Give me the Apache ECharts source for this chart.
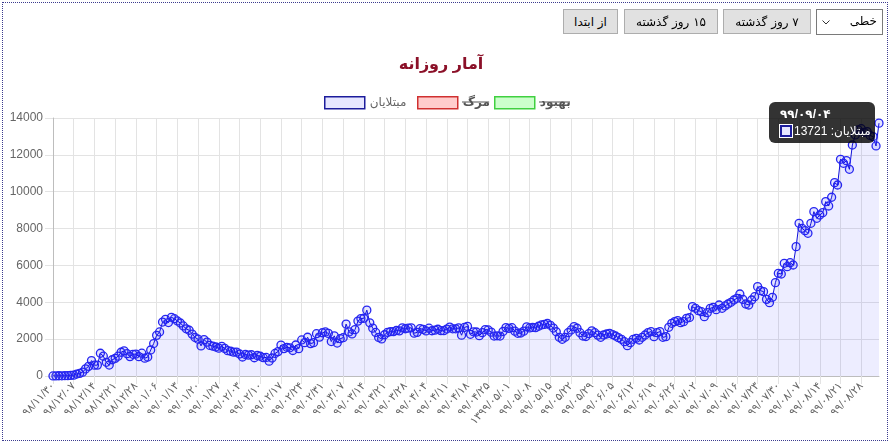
<!DOCTYPE html>
<html>
<head>
<meta charset="utf-8">
<script src="https://cdn.jsdelivr.net/npm/echarts@6/dist/echarts.min.js"></script>
<style>
html,body{margin:0;padding:0;background:#fff;}
#wrap{position:relative;width:890px;height:443px;overflow:hidden;}
#chart{position:absolute;left:0;top:0;width:890px;height:443px;}
#frame{position:absolute;left:2px;top:2px;width:884px;height:437px;border:1px dotted #3b3b8f;pointer-events:none;}
.btn{position:absolute;top:9px;height:25px;box-sizing:border-box;background:#e1e1e1;border:1px solid #adadad;
  font:12px 'DejaVu Sans',sans-serif;color:#000;display:flex;align-items:center;justify-content:center;direction:rtl;white-space:nowrap;}
.sel{position:absolute;top:9px;left:816px;width:67px;height:26px;box-sizing:border-box;background:#fff;border:1px solid #7a7a7a;
  font:12px 'DejaVu Sans',sans-serif;color:#000;direction:rtl;}
.sel span{position:absolute;right:5px;top:4px;}
.sel svg{position:absolute;left:5px;top:10px;}
</style>
</head>
<body>
<div id="wrap">
  <div id="chart"></div>
  <div class="btn" style="left:563px;width:55px;">از ابتدا</div>
  <div class="btn" style="left:624px;width:94px;">۱۵ روز گذشته</div>
  <div class="btn" style="left:723px;width:88px;">۷ روز گذشته</div>
  <div class="sel"><span>خطی</span><svg width="8" height="5" viewBox="0 0 8 5"><polyline points="0.5,0.5 4,4 7.5,0.5" fill="none" stroke="#333" stroke-width="1"/></svg></div>
  <div id="frame"></div>
</div>
<script>
// ---- data ----
const seriesNames = ['مبتلایان', 'مرگ', 'بهبود'];
const titleText = 'آمار روزانه';
const yTicks = [0, 2000, 4000, 6000, 8000, 10000, 12000, 14000];

// Persian calendar months covered: [year, month, days]
const monthTable = [[98,11,30],[98,12,29],[99,1,31],[99,2,31],[99,3,31],[99,4,31],[99,5,31],[99,6,31],[99,7,30],[99,8,30],[99,9,30]];

// daily infected (مبتلایان), 98/11/30 .. 99/09/04
const infected = [
  2,3,13,10,15,18,34,44,106,143,205,
  385,523,835,586,591,1234,1076,743,595,881,958,1075,1289,1365,1209,1053,1178,1192,1046,1237,966,1028,1411,1762,2206,2389,2926,3076,2901,3186,3110,
  2987,2875,2715,2560,2483,2274,2089,1997,1634,1972,1837,1657,1617,1574,1512,1606,1499,1374,1343,1294,1297,1194,1030,1168,1134,1153,991,1112,1073,993,
  1006,802,976,1223,1323,1680,1485,1556,1529,1383,1683,1481,1958,1808,2102,1757,1806,2294,2111,2346,2392,2311,1869,2180,1787,2023,2080,2819,2392,2282,2516,
  2979,3117,3134,3574,2886,2596,2364,2095,2011,2238,2369,2410,2410,2472,2449,2612,2563,2596,2615,2322,2368,2573,2531,2445,2595,2456,2489,2536,2457,2457,
  2549,2652,2560,2560,2613,2213,2637,2691,2262,2397,2388,2186,2349,2521,2500,2379,2166,2182,2166,2414,2625,2586,2621,2434,2316,2333,2434,2667,2608,2636,2621,
  2700,2770,2800,2850,2750,2600,2400,2100,1990,2100,2350,2500,2680,2590,2350,2170,2140,2300,2450,2350,2220,2100,2225,2280,2316,2250,2170,2080,1990,1863,1647,
  1809,1990,2045,1954,2100,2225,2352,2406,2135,2352,2406,2100,2135,2641,2858,2949,3003,2894,2950,3130,3170,3763,3672,3546,3491,3220,3437,3672,3727,3600,
  3853,3672,3800,3907,4000,4124,4215,4450,4160,3907,3853,4124,4305,4848,4631,4577,4160,3980,4269,5065,5572,5535,6114,5933,6150,6024,7019,8285,8014,7887,7742,
  8285,8918,8556,8737,8864,9461,9226,9700,10492,10365,11758,11541,11686,11216,12536,13079,13352,13421,13223,13260,13053,12989,12482,13721
];
// hidden datasets (not drawn in the reference)
const deaths = [];
const recovered = [];

// ---- build date categories ----
const faDigits = '۰۱۲۳۴۵۶۷۸۹';
const fa = s => s.replace(/\d/g, d => faDigits[+d]);
const pad = n => String(n).padStart(2, '0');
const dates = [];
for (const [y, m, len] of monthTable) {
  for (let d = 1; d <= len; d++) {
    if (y === 98 && m === 11 && d < 30) continue;
    if (y === 99 && m === 9 && d > 4) break;
    const yy = (y === 99 && m === 5 && d === 1) ? '1399' : String(y);
    dates.push(fa(yy + '/' + pad(m) + '/' + pad(d)));
  }
}

const FONT = "'Liberation Sans','DejaVu Sans',sans-serif";
const meas = document.createElement('canvas').getContext('2d');
meas.font = 'bold 12px ' + FONT;
const wDeath = meas.measureText(seriesNames[1]).width;
const wRec = meas.measureText(seriesNames[2]).width;

const chart = echarts.init(document.getElementById('chart'), null, {renderer: 'canvas'});
const legendBase = {top: 96, padding: 0, icon: 'rect', itemWidth: 40, itemHeight: 12, itemGap: 10,
  textStyle: {color: '#666', fontSize: 12, fontFamily: FONT}, selectedMode: false};

chart.setOption({
  animation: false,
  title: {text: titleText, left: 436, top: 52, textAlign: 'center',
    textStyle: {color: '#8b1028', fontSize: 16, fontWeight: 'bold', fontFamily: FONT}},
  legend: [
    Object.assign({}, legendBase, {left: 324, data: [{name: seriesNames[0], itemStyle: {color: '#e6e6ff', borderColor: '#1c1c9c', borderWidth: 1.5}}]}),
    Object.assign({}, legendBase, {left: 417, textStyle: {color: '#555', fontSize: 12, fontWeight: 'bold', fontFamily: FONT},
      data: [{name: seriesNames[1], itemStyle: {color: '#ffcccc', borderColor: '#d03030', borderWidth: 1.5}}]}),
    Object.assign({}, legendBase, {left: 494, textStyle: {color: '#555', fontSize: 12, fontWeight: 'bold', fontFamily: FONT},
      data: [{name: seriesNames[2], itemStyle: {color: '#ccffcc', borderColor: '#40d040', borderWidth: 1.5}}]})
  ],
  graphic: [
    {type: 'line', silent: true, shape: {x1: 462, y1: 102, x2: 462 + wDeath, y2: 102}, style: {stroke: '#555', lineWidth: 1}},
    {type: 'line', silent: true, shape: {x1: 539, y1: 102, x2: 539 + wRec, y2: 102}, style: {stroke: '#555', lineWidth: 1}}
  ],
  grid: {left: 53, right: 11, top: 118, bottom: 67, containLabel: false},
  tooltip: {
    trigger: 'item', triggerOn: 'none', alwaysShowContent: true, position: [769, 102],
    backgroundColor: 'rgba(0,0,0,0.8)', borderWidth: 0, borderRadius: 6, padding: [6, 3, 6, 11],
    transitionDuration: 0, extraCssText: 'box-shadow:none;width:92px;',
    formatter: p => '<div style="font:bold 12px ' + FONT + ';color:#fff;line-height:12px;height:12px;">' + dates[p.dataIndex] + '</div>' +
      '<div style="display:flex;align-items:center;margin-top:5px;height:12px;">' +
      '<span style="display:inline-block;box-sizing:border-box;width:12px;height:12px;background:#e6e6ff;border:2px solid #1c1c9c;outline:1px solid #fff;margin-right:2px;"></span>' +
      '<span dir="rtl" style="font:12px ' + FONT + ';color:#fff;line-height:12px;white-space:nowrap;">' + seriesNames[0] + ': ' + p.value + '</span></div>'
  },
  xAxis: {
    type: 'category', data: dates, boundaryGap: false,
    axisLine: {lineStyle: {color: '#bdbdbd', width: 1}},
    axisTick: {show: true, interval: 6, length: 8, lineStyle: {color: '#e3e3e3'}},
    splitLine: {show: true, interval: 6, lineStyle: {color: '#e3e3e3', width: 1}},
    axisLabel: {interval: 6, rotate: 47, margin: 8, color: '#666', fontSize: 11, fontFamily: FONT}
  },
  yAxis: {
    type: 'value', min: 0, max: 14000, interval: 2000,
    axisLine: {show: true, lineStyle: {color: '#bdbdbd', width: 1}},
    axisTick: {show: true, length: 8, lineStyle: {color: '#e3e3e3'}},
    splitLine: {show: true, lineStyle: {color: '#e3e3e3', width: 1}},
    axisLabel: {margin: 10, color: '#666', fontSize: 12, fontFamily: FONT,
      customValues: yTicks, formatter: v => String(v)}
  },
  series: [
    {name: seriesNames[0], type: 'line', data: infected, symbol: 'circle', symbolSize: 8, showAllSymbol: true,
      lineStyle: {color: '#1010d8', width: 1},
      itemStyle: {color: 'rgba(0,0,255,0.1)', borderColor: '#2626f0', borderWidth: 1.3},
      areaStyle: {color: 'rgba(0,0,255,0.1)', origin: 'start'},
      emphasis: {disabled: true}, z: 3},
    {name: seriesNames[1], type: 'line', data: deaths, itemStyle: {color: '#ffcccc', borderColor: '#d03030'}},
    {name: seriesNames[2], type: 'line', data: recovered, itemStyle: {color: '#ccffcc', borderColor: '#40d040'}}
  ]
});
chart.dispatchAction({type: 'showTip', seriesIndex: 0, dataIndex: infected.length - 1});
</script>
</body>
</html>
